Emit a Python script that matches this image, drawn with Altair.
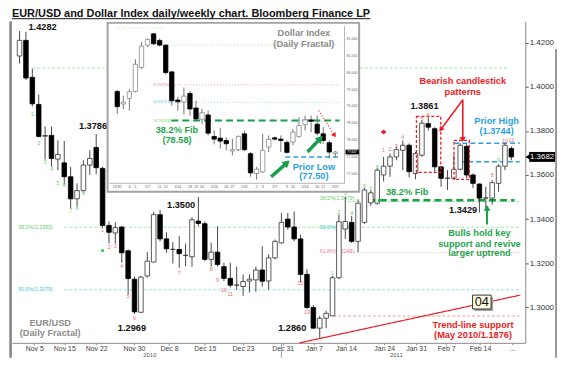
import math
import altair as alt
import pandas as pd

FONT = "Liberation Sans, Arial, Helvetica, sans-serif"
RED = "#ed1c24"
GREEN = "#1fa54c"
BLUE = "#2a9fe3"
GRAY = "#8c8c8c"
INK = "#111111"

TITLE = "EUR/USD and Dollar Index daily/weekly chart. Bloomberg Finance LP"

# ---------------- EUR/USD daily candles (Nov 2010 - Feb 2011) ----------------
eur_open = [1.4140, 1.4211, 1.4043, 1.3920, 1.3776, 1.3780, 1.3672, 1.3655, 1.3592, 1.3492,
            1.3529, 1.3645, 1.3725, 1.3630, 1.3371, 1.3337, 1.3364, 1.3256, 1.3127, 1.2977,
            1.3142, 1.3205, 1.3420, 1.3310, 1.3262, 1.3262, 1.3235, 1.3229, 1.3391, 1.3379,
            1.3217, 1.3250, 1.3184, 1.3131, 1.3100, 1.3094, 1.3119, 1.3124, 1.3169, 1.3119,
            1.3224, 1.3292, 1.3400, 1.3364, 1.3310, 1.3149, 1.2999, 1.2905, 1.2950, 1.2961,
            1.3134, 1.3355, 1.3385, 1.3299, 1.3385, 1.3474, 1.3472, 1.3600, 1.3640, 1.3682,
            1.3712, 1.3735, 1.3607, 1.3690, 1.3833, 1.3810, 1.3637, 1.3585, 1.3585, 1.3626,
            1.3730, 1.3600, 1.3559, 1.3495, 1.3495, 1.3562, 1.3640, 1.3720]
eur_high = [1.4253, 1.4250, 1.4082, 1.3965, 1.3820, 1.3820, 1.3757, 1.3754, 1.3637, 1.3562,
            1.3667, 1.3712, 1.3786, 1.3637, 1.3389, 1.3385, 1.3367, 1.3262, 1.3139, 1.3142,
            1.3250, 1.3434, 1.3442, 1.3340, 1.3295, 1.3322, 1.3289, 1.3409, 1.3500, 1.3389,
            1.3292, 1.3367, 1.3202, 1.3202, 1.3184, 1.3149, 1.3149, 1.3184, 1.3277, 1.3239,
            1.3307, 1.3427, 1.3427, 1.3434, 1.3329, 1.3172, 1.3010, 1.2961, 1.2984, 1.3142,
            1.3420, 1.3500, 1.3415, 1.3487, 1.3541, 1.3532, 1.3631, 1.3682, 1.3697, 1.3730,
            1.3757, 1.3743, 1.3705, 1.3848, 1.3861, 1.3817, 1.3640, 1.3622, 1.3690, 1.3743,
            1.3739, 1.3607, 1.3562, 1.3547, 1.3577, 1.3649, 1.3745, 1.3730]
eur_low = [1.4106, 1.4031, 1.3911, 1.3770, 1.3670, 1.3637, 1.3622, 1.3555, 1.3450, 1.3457,
           1.3520, 1.3600, 1.3604, 1.3360, 1.3289, 1.3289, 1.3202, 1.3059, 1.2969, 1.2975,
           1.3134, 1.3202, 1.3299, 1.3247, 1.3198, 1.3179, 1.3187, 1.3184, 1.3367, 1.3209,
           1.3184, 1.3184, 1.3119, 1.3089, 1.3079, 1.3052, 1.3067, 1.3070, 1.3094, 1.3079,
           1.3217, 1.3289, 1.3352, 1.3299, 1.3112, 1.2992, 1.2902, 1.2860, 1.2905, 1.2959,
           1.3127, 1.3310, 1.3292, 1.3250, 1.3378, 1.3460, 1.3465, 1.3570, 1.3592, 1.3667,
           1.3622, 1.3589, 1.3580, 1.3682, 1.3802, 1.3615, 1.3547, 1.3532, 1.3577, 1.3622,
           1.3586, 1.3540, 1.3429, 1.3450, 1.3465, 1.3524, 1.3622, 1.3667]
eur_close = [1.4211, 1.4040, 1.3923, 1.3775, 1.3779, 1.3675, 1.3693, 1.3592, 1.3492, 1.3529,
             1.3645, 1.3675, 1.3633, 1.3371, 1.3340, 1.3361, 1.3247, 1.3130, 1.2979, 1.3137,
             1.3209, 1.3420, 1.3310, 1.3265, 1.3263, 1.3243, 1.3236, 1.3397, 1.3380, 1.3217,
             1.3250, 1.3194, 1.3131, 1.3100, 1.3101, 1.3117, 1.3127, 1.3169, 1.3118, 1.3224,
             1.3299, 1.3385, 1.3364, 1.3310, 1.3149, 1.2999, 1.2905, 1.2950, 1.2972, 1.3134,
             1.3388, 1.3389, 1.3299, 1.3472, 1.3532, 1.3519, 1.3622, 1.3640, 1.3682, 1.3715,
             1.3735, 1.3615, 1.3697, 1.3835, 1.3817, 1.3637, 1.3585, 1.3586, 1.3626, 1.3735,
             1.3600, 1.3562, 1.3495, 1.3496, 1.3565, 1.3640, 1.3735, 1.3682]

eur_ticks = [1.30, 1.32, 1.34, 1.36, 1.38, 1.40, 1.42]
date_pos = [2.3, 7.0, 12.0, 17.9, 23.4, 29.0, 35.0, 41.2, 46.1, 51.1, 57.1, 62.1, 66.8, 72.1, 77.1]
date_labels = ["Nov 5", "Nov 15", "Nov 22", "Nov 30", "Dec 8", "Dec 15", "Dec 23", "Dec 31",
               "Jan 7", "Jan 14", "Jan 24", "Jan 31", "Feb 7", "Feb 14", "..."]
year_pos = [20.4, 59.0]
year_labels = ["2010", "2011"]
year_split = [41.0]

# ---------------- Dollar Index daily candles (inset) ----------------
dx_open = [79.444, 79.071, 79.238, 79.444, 80.151, 80.818, 81.152, 80.956, 80.818, 80.023,
           79.189, 79.130, 79.385, 78.953, 78.619, 78.747, 78.109, 78.060, 77.991, 77.677,
           77.716, 78.187, 77.598, 77.009, 77.058, 77.795, 78.069, 78.030, 77.932, 77.942,
           78.109, 78.462, 78.600, 78.472, 78.187, 77.922, 77.598]
dx_high = [79.483, 79.316, 79.512, 80.396, 80.916, 81.015, 81.181, 81.015, 80.838, 80.052,
           79.287, 79.562, 79.463, 79.169, 78.924, 78.874, 78.285, 78.364, 78.089, 78.040,
           78.138, 78.285, 77.647, 77.205, 78.187, 78.138, 78.109, 78.138, 77.991, 78.334,
           78.678, 78.727, 78.727, 78.727, 78.384, 77.991, 77.677]
dx_low = [78.776, 78.924, 78.874, 79.414, 80.102, 80.759, 80.818, 80.779, 79.954, 79.022,
          78.874, 78.757, 78.727, 78.580, 78.482, 78.138, 77.873, 77.745, 77.696, 77.549,
          77.677, 77.677, 76.911, 76.832, 77.029, 77.647, 77.991, 77.647, 77.598, 77.844,
          78.069, 78.285, 78.236, 78.138, 77.893, 77.451, 77.500]
dx_close = [78.992, 79.120, 79.434, 80.249, 80.789, 80.985, 80.857, 80.818, 80.003, 79.169,
            79.139, 79.306, 78.924, 78.629, 78.815, 78.207, 78.030, 77.971, 77.893, 77.716,
            78.109, 77.716, 77.029, 77.137, 77.696, 78.020, 78.030, 77.991, 77.637, 78.236,
            78.433, 78.600, 78.560, 78.207, 77.991, 77.647, 77.647]
dx_ticks = [77.0, 77.5, 78.0, 78.5, 79.0, 79.5, 80.0, 80.5, 81.0]
dx_date_pos = [0, 2, 3, 5, 7, 8, 10, 12, 13, 14, 16, 18, 19, 21, 23, 24, 26, 28, 29, 31, 33, 34, 36]
dx_date_labels = ["12/31", "4", "5", "1/7", "11", "12", "1/14", "18", "19", "20", "1/24", "26",
                  "27", "1/31", "2", "3", "2/7", "9", "10", "2/14", "16", "17", "2/21"]

# ---------------- annotations (EUR/USD coordinates: candle index, price) ----------------
main_hlines = [  # x1, x2, price, colour, dash, width
    (2.0, 76.3, 1.4085, "#a3eba3", "dash", 1.0),
    (7.0, 78.3, 1.3363, "#a3eba3", "dash", 1.0),
    (7.0, 78.3, 1.3079, "#8ee3e8", "dash", 1.0),
    (51.4, 78.3, 1.3479, "#a3eba3", "dash", 1.0),
    (51.4, 78.3, 1.3248, "#f5a3c7", "dot", 1.0),
    (49.1, 78.3, 1.2960, "#f59a9a", "dash", 1.0),
    (68.1, 78.3, 1.3744, "#2b9fe0", "mid", 1.3),
    (69.0, 78.3, 1.3660, "#2b9fe0", "mid", 1.3),
    (54.7, 77.5, 1.3485, "#17a04a", "long", 2.5),
]
main_fib_labels = [
    ("38.2%(1.3363)", -0.2, 1.3366, "#5fcf5f"),
    ("50.0%(1.3079)", -0.2, 1.3082, "#3fc6d6"),
    ("38.2%(1.3479)", 47.0, 1.3495, "#5fcf5f"),
    ("50.0%(1.3361)", 47.0, 1.3366, "#3fc6d6"),
    ("61.8%(1.3248)", 47.0, 1.3257, "#f07aa8"),
]
main_segments = [  # x1, x2, y1, y2, colour, dash, width
    (43.8, 78.4, 1.2838, 1.3055, RED, "solid", 1.2),
    (69.4, 65.95, 1.3941, 1.3806, RED, "solid", 1.6),
    (69.4, 69.4, 1.3941, 1.3761, RED, "solid", 1.6),
    (73.2, 73.2, 1.3375, 1.3451, "#17a04a", "solid", 2.0),
]
main_heads = [(1, 7, 35, RED), (2, 7, 35, RED), (3, 0, 45, "#17a04a")]  # segment row, -, size, colour
pattern_boxes = [(62.14, 65.95, 1.3866, 1.3612), (68.03, 70.43, 1.3757, 1.3580)]
main_texts = [
    ("1.4282", 3.6, 1.4271, INK), ("1.3786", 11.5, 1.3820, INK), ("1.3500", 25.3, 1.3465, INK),
    ("1.2969", 17.6, 1.2905, INK), ("1.2860", 42.7, 1.2905, INK), ("1.3861", 63.4, 1.3915, INK),
    ("1.3429", 69.45, 1.3442, INK),
    ("EUR/USD", 4.8, 1.2929, GRAY), ("(Daily Fractal)", 4.8, 1.2883, GRAY),
    ("Bearish candlestick", 69.4, 1.4028, RED), ("patterns", 69.4, 1.3978, RED),
    ("Prior High", 74.7, 1.3847, BLUE), ("(1.3744)", 74.7, 1.3799, BLUE),
    ("38.2% Fib", 60.7, 1.3522, GREEN),
    ("Bulls hold key", 72.0, 1.3337, GREEN), ("support and revive", 72.0, 1.3288, GREEN),
    ("larger uptrend", 72.0, 1.3244, GREEN),
    ("Trend-line support", 71.0, 1.2920, RED), ("(May 2010/1.1876)", 71.0, 1.2876, RED),
]
green_counts = [(2, 1.3878, "1"), (3, 1.3743, "2"), (4, 1.3660, "3"), (5, 1.3627, "4"),
                (6, 1.3562, "5"), (7, 1.3555, "6"), (8, 1.3439, "7"), (9, 1.3450, "8"),
                (10, 1.3520, "9"), (49, 1.3154, "1"), (50, 1.3434, "2"), (51, 1.3517, "3"),
                (52, 1.3427, "4"), (53, 1.3484, "5"), (54, 1.3550, "6"), (55, 1.3535, "7"),
                (56, 1.3637, "8"), (75, 1.3667, "9")]
red_counts = [(13, 1.3349, "1"), (14, 1.3272, "2"), (15, 1.3277, "3"), (16, 1.3187, "4"),
              (17, 1.3049, "5"), (18, 1.2950, "6"), (25, 1.3157, "7"), (30, 1.3172, "8"),
              (31, 1.3122, "9"), (32, 1.3079, "10"), (33, 1.3059, "11"), (44, 1.3112, "12"),
              (45, 1.2979, "13"), (57, 1.3715, "1"), (58, 1.3720, "2"), (59, 1.3730, "3"),
              (60, 1.3772, "4"), (63, 1.3855, "5"), (64, 1.3873, "6"), (69, 1.3757, "7"),
              (74, 1.3600, "8"), (76, 1.3754, "10"), (77, 1.3757, "11")]
markers = [(57.0, 1.3795, "cross", RED, 22), (13.0, 1.3257, "square", "#19c93a", 7),
           (56.3, 1.3484, "square", "#19c93a", 7)]
box04 = (70.93, 73.83, 1.2992, 1.3055, "04")

# ---------------- annotations (Dollar Index coordinates) ----------------
inset_hlines = [
    (-0.2, 7.8, 81.33, "#a8eca8", "dot", 1.0),
    (7.98, 36.7, 80.82, "#a8eca8", "dot", 1.0),
    (8.6, 36.7, 79.64, "#f5a3c7", "dot", 1.0),
    (8.6, 36.7, 79.12, "#8ee3e8", "dot", 1.0),
    (8.93, 36.7, 78.58, "#17a04a", "long", 2.0),
    (27.75, 36.7, 77.50, "#2b9fe0", "mid", 1.5),
]
inset_fib_labels = [("61.8%(79.64)", 6.0, 79.64, "#f07aa8"), ("50.0%(79.12)", 6.0, 79.12, "#3fc6d6"),
                    ("38.2%(78.58)", 6.0, 78.58, "#5fcf5f")]
inset_segments = [
    (25.40, 28.02, 76.914, 77.326, "#17a04a", "solid", 3.5),
    (31.41, 33.51, 77.650, 78.045, "#17a04a", "solid", 3.5),
    (33.25, 35.87, 78.878, 78.142, RED, "dot", 1.3),
]
inset_heads = [(0, 0, 70, "#17a04a"), (1, 0, 70, "#17a04a"), (2, 0, 30, RED)]
inset_texts = [
    ("Dollar Index", 30.8, 81.183, GRAY), ("(Daily Fractal)", 30.8, 80.859, GRAY),
    ("38.2% Fib", 9.86, 78.310, GREEN), ("(78.58)", 9.86, 77.995, GREEN),
    ("Prior Low", 32.46, 77.209, BLUE), ("(77.50)", 32.46, 76.935, BLUE),
]

# ---------------- layout ----------------
W, H = 517, 324
XD = [-0.41, 78.40]
YD = [1.28384, 1.42979]
XID, XIR = [-0.5, 36.7], [98, 335]
YID, YIR = [76.72, 81.38], [163.3, 5]
XM = alt.Scale(domain=XD, nice=False, zero=False)
YM = alt.Scale(domain=YD, nice=False, zero=False)
XI = alt.Scale(domain=XID, range=XIR, nice=False, zero=False)
YI = alt.Scale(domain=YID, range=YIR, nice=False, zero=False)
PXM, PYM = W / (XD[1] - XD[0]), H / (YD[1] - YD[0])
PXI, PYI = (XIR[1] - XIR[0]) / (XID[1] - XID[0]), (YIR[0] - YIR[1]) / (YID[1] - YID[0])
DASH = alt.Scale(domain=["solid", "dash", "dot", "long", "mid"],
                 range=[[1, 0], [3, 2], [1, 2], [7, 4], [5, 3]])

label_expr = "".join(f"abs(datum.value - {p}) < 0.05 ? '{l}' : " for p, l in zip(date_pos, date_labels)) + "''"
AXX = alt.Axis(orient="bottom", values=date_pos, labelExpr=label_expr, title=None, grid=False,
               tickSize=2, tickColor="#8a8a8a", domainColor="#8a8a8a", labelFont=FONT,
               labelFontSize=7, labelColor="#444444", labelPadding=0, labelOverlap=False,
               labelFlush=False)
AXY = alt.Axis(orient="right", values=eur_ticks, format=".4f", title=None, grid=False,
               tickSize=3, tickColor="#555555", domainColor="#8a8a8a", labelFont=FONT,
               labelFontSize=8, labelColor="#333333", labelPadding=1, labelFlush=False,
               labelOverlap=False)


def MX(f):
    return alt.X(f, type="quantitative", scale=XM, axis=AXX)


def MY(f):
    return alt.Y(f, type="quantitative", scale=YM, axis=AXY)


def IX(f):
    return alt.X(f, type="quantitative", scale=XI, axis=None)


def IY(f):
    return alt.Y(f, type="quantitative", scale=YI, axis=None)


def angle(x1, x2, y1, y2, px, py):
    dx = (x2 - x1) * px
    dy = -(y2 - y1) * py
    return math.degrees(math.atan2(dx, -dy)) % 360


def seg_layer(rows, X, Y):
    df = pd.DataFrame(rows, columns=["x1", "x2", "y1", "y2", "c", "d", "w"])
    return alt.Chart(df).mark_rule().encode(
        x=X("x1"), x2="x2", y=Y("y1"), y2="y2",
        color=alt.Color("c:N", scale=None),
        strokeDash=alt.StrokeDash("d:N", scale=DASH, legend=None),
        strokeWidth=alt.StrokeWidth("w:Q", scale=None))


def hline_rows(rows):
    return [(a, b, y, y, c, d, w) for a, b, y, c, d, w in rows]


def head_layer(segs, heads, X, Y, px, py):
    rows = []
    for k, _, s, c in heads:
        x1, x2, y1, y2 = segs[k][:4]
        rows.append((x2, y2, angle(x1, x2, y1, y2, px, py), s, c))
    df = pd.DataFrame(rows, columns=["x", "y", "a", "s", "c"])
    return alt.Chart(df).mark_point(shape="triangle-up", filled=True, opacity=1, strokeWidth=0).encode(
        x=X("x"), y=Y("y"), angle=alt.Angle("a:Q", scale=None),
        size=alt.Size("s:Q", scale=None), color=alt.Color("c:N", scale=None))


def text_layer(rows, X, Y, size, bold=True, align="center"):
    df = pd.DataFrame(rows, columns=["t", "x", "y", "c"])
    return alt.Chart(df).mark_text(font=FONT, fontSize=size, fontWeight="bold" if bold else "normal",
                                   align=align, baseline="middle").encode(
        x=X("x"), y=Y("y"), text="t:N", color=alt.Color("c:N", scale=None))


def candle_layers(o, h, l, c, X, Y, width, up_stroke, wick):
    df = pd.DataFrame({"i": range(len(o)), "open": o, "high": h, "low": l, "close": c})
    wicks = alt.Chart(df).mark_rule(color=wick, strokeWidth=0.9).encode(
        x=X("i"), y=Y("low"), y2="high")
    up = "datum.close >= datum.open"
    bodies = alt.Chart(df).mark_bar(size=width, strokeWidth=0.8).encode(
        x=X("i"), y=Y("open"), y2="close",
        fill=alt.condition(up, alt.value("white"), alt.value("black")),
        stroke=alt.condition(up, alt.value(up_stroke), alt.value("black")))
    return [wicks, bodies]


one = pd.DataFrame({"k": [0]})

# ================= main chart =================
M = []
M.append(alt.Chart(one).mark_rule(color="#8c8c8c", strokeWidth=2.7).encode(
    x=alt.value(-1.4), y=alt.value(0), y2=alt.value(339)))
M.append(alt.Chart(one).mark_rule(color="#9a9a9a", strokeWidth=2).encode(
    x=alt.value(548), y=alt.value(28), y2=alt.value(339)))
M.append(alt.Chart(pd.DataFrame({"t": [TITLE]})).mark_text(
    align="left", baseline="alphabetic", font=FONT, fontSize=11, fontWeight="bold", color=INK
).encode(x=alt.value(0), y=alt.value(-4), text="t:N"))
M.append(alt.Chart(one).mark_rule(color=INK, strokeWidth=1).encode(
    x=alt.value(0), x2=alt.value(361), y=alt.value(-2.5)))

M.append(seg_layer(hline_rows(main_hlines), MX, MY))
M.append(text_layer(main_fib_labels, MX, MY, 5.3, bold=False, align="left"))
M.append(seg_layer(main_segments[:1], MX, MY))
M += candle_layers(eur_open, eur_high, eur_low, eur_close, MX, MY, 4.6, "#333333", "#333333")

cnt = [(t, x, y, "#66d066") for x, y, t in green_counts] + [(t, x, y, "#f26b6b") for x, y, t in red_counts]
M.append(text_layer(cnt, MX, MY, 5.5, bold=False))
mk = pd.DataFrame(markers, columns=["x", "y", "shape", "c", "s"])
M.append(alt.Chart(mk).mark_point(filled=True, opacity=1, strokeWidth=0).encode(
    x=MX("x"), y=MY("y"), shape=alt.Shape("shape:N", scale=None),
    color=alt.Color("c:N", scale=None), size=alt.Size("s:Q", scale=None)))

boxes = pd.DataFrame(pattern_boxes, columns=["x1", "x2", "y1", "y2"])
M.append(alt.Chart(boxes).mark_rect(fillOpacity=0, stroke=RED, strokeWidth=1.3, strokeDash=[3, 2]).encode(
    x=MX("x1"), x2="x2", y=MY("y1"), y2="y2"))
M.append(seg_layer(main_segments[1:], MX, MY))
M.append(head_layer(main_segments, main_heads, MX, MY, PXM, PYM))
M.append(text_layer(main_texts, MX, MY, 9.3))

bx1, bx2, by1, by2, btxt = box04
sh_dx, sh_dy = 2 / PXM, 2 / PYM
b04 = pd.DataFrame({"x1": [bx1], "x2": [bx2], "y1": [by1], "y2": [by2], "t": [btxt],
                    "sx1": [bx1 + sh_dx], "sx2": [bx2 + sh_dx], "sy1": [by1 - sh_dy], "sy2": [by2 - sh_dy],
                    "cx": [(bx1 + bx2) / 2], "cy": [(by1 + by2) / 2]})
M.append(alt.Chart(b04).mark_rect(fill="#a0a0a0").encode(x=MX("sx1"), x2="sx2", y=MY("sy1"), y2="sy2"))
M.append(alt.Chart(b04).mark_rect(fill="#ffffe1", stroke="#333333", strokeWidth=1).encode(
    x=MX("x1"), x2="x2", y=MY("y1"), y2="y2"))
M.append(alt.Chart(b04).mark_text(font=FONT, fontSize=13, color=INK, baseline="middle").encode(
    x=MX("cx"), y=MY("cy"), text="t:N"))

last = eur_close[-1]
half = 5 / PYM
tag = pd.DataFrame({"y": [last], "y1": [last - half], "y2": [last + half], "t": [f"{last:.4f}"]})
M.append(alt.Chart(tag).mark_rect(fill="black").encode(
    x=alt.value(521), x2=alt.value(547), y=MY("y1"), y2="y2"))
M.append(alt.Chart(tag).mark_point(shape="triangle-left", filled=True, size=45, color="black", opacity=1).encode(
    x=alt.value(520), y=MY("y")))
M.append(alt.Chart(tag).mark_text(font=FONT, fontSize=8, color="white", baseline="middle").encode(
    x=alt.value(534), y=MY("y"), text="t:N"))

yr = pd.DataFrame({"x": year_pos, "t": year_labels})
M.append(alt.Chart(yr).mark_text(font=FONT, fontSize=6, color="#555555", baseline="bottom").encode(
    x=MX("x"), y=alt.value(339), text="t:N"))
M.append(alt.Chart(pd.DataFrame({"x": year_split})).mark_rule(color="#999999", strokeWidth=1).encode(
    x=MX("x"), y=alt.value(324), y2=alt.value(339)))

main = alt.layer(*M)

# ================= inset: Dollar Index =================
I = []
I.append(alt.Chart(one).mark_rect(fill="white", stroke="#a3a3a3", strokeWidth=2).encode(
    x=alt.value(96.3), x2=alt.value(349.7), y=alt.value(1.7), y2=alt.value(171.7)))
I.append(alt.Chart(one).mark_rule(color="#b5b5b5", strokeWidth=1).encode(
    x=alt.value(XIR[1]), y=alt.value(YIR[1]), y2=alt.value(YIR[0])))
I.append(alt.Chart(one).mark_rule(color="#b5b5b5", strokeWidth=1).encode(
    x=alt.value(XIR[0]), x2=alt.value(XIR[1]), y=alt.value(YIR[0])))
I.append(seg_layer(hline_rows(inset_hlines), IX, IY))
I.append(text_layer(inset_fib_labels, IX, IY, 3.0, bold=False, align="left"))
I += candle_layers(dx_open, dx_high, dx_low, dx_close, IX, IY, 4.4, "#8a8a8a", "#666666")
I.append(seg_layer(inset_segments, IX, IY))
I.append(head_layer(inset_segments, inset_heads, IX, IY, PXI, PYI))
I.append(text_layer(inset_texts, IX, IY, 9.3))

ytk = pd.DataFrame({"v": dx_ticks, "t": [f"{v:.3f}" for v in dx_ticks]})
I.append(alt.Chart(ytk).mark_text(font=FONT, fontSize=3.6, color="#666666", align="left", baseline="middle").encode(
    x=alt.value(XIR[1] + 2), y=IY("v"), text="t:N"))
xtk = pd.DataFrame({"p": dx_date_pos, "t": dx_date_labels})
I.append(alt.Chart(xtk).mark_text(font=FONT, fontSize=3.6, color="#555555", baseline="top").encode(
    x=IX("p"), y=alt.value(YIR[0] + 1.5), text="t:N"))
dlast = dx_close[-1]
dhalf = 2.4 / PYI
dtag = pd.DataFrame({"y": [dlast], "y1": [dlast - dhalf], "y2": [dlast + dhalf], "t": [f"{dlast:.3f}"]})
I.append(alt.Chart(dtag).mark_rect(fill="black").encode(
    x=alt.value(XIR[1] + 1), x2=alt.value(349.5), y=IY("y1"), y2="y2"))
I.append(alt.Chart(dtag).mark_text(font=FONT, fontSize=3.2, color="white", baseline="middle").encode(
    x=alt.value(XIR[1] + 7.5), y=IY("y"), text="t:N"))

inset = alt.layer(*I)

chart = alt.layer(main, inset).resolve_scale(x="independent", y="independent").properties(
    width=W, height=H,
    padding={"left": 4, "top": 12, "right": 33, "bottom": 15},
    autosize=alt.AutoSizeParams(type="none"),
    background="white",
).configure_view(stroke=None)

chart.save("out.html", embed_options={"renderer": "svg", "actions": False})
